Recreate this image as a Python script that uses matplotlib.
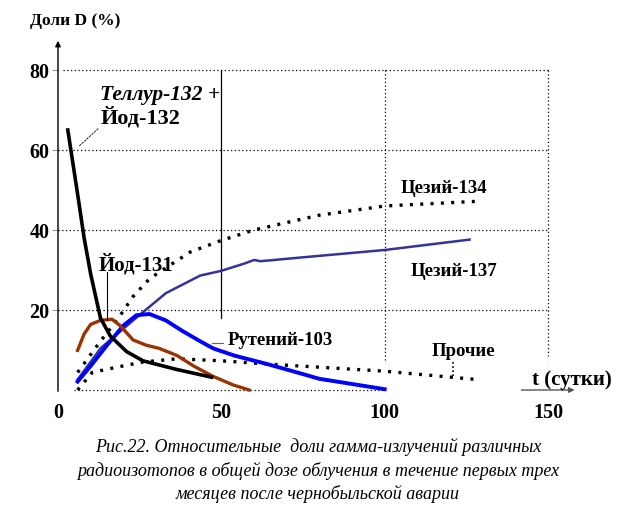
import matplotlib
matplotlib.use("Agg")
import matplotlib.pyplot as plt

# ------ data section ------
te_t = [3, 4.5, 6, 8, 10, 13, 16, 21, 26, 36, 47]
te_y = [65, 57, 49, 38, 29, 18, 13.5, 9.6, 7.3, 5.2, 3.2]

i131_t = [6, 8, 10, 13, 16.5, 19, 23, 27, 31, 36.5, 41.5, 47.5, 53.5, 58.5]
i131_y = [9.9, 14, 16.4, 17.4, 17.7, 16.1, 12.5, 11.2, 10.4, 8.6, 6, 3.4, 1.3, 0]

ru_t = [6, 10, 15, 20, 24, 28, 33, 38, 43.5, 47.5, 54, 64, 74, 80, 90, 100]
ru_y = [2.1, 6, 11.2, 16.1, 18.7, 19, 17.4, 14.8, 12.2, 10.4, 8.6, 6.5, 4.2, 2.8, 1.5, 0.2]

cs137_t = [6, 13, 23, 33, 43.5, 50, 57, 60, 62, 74, 100, 126]
cs137_y = [2.6, 10.4, 17.4, 24.2, 28.6, 29.8, 31.6, 32.5, 32.2, 33.1, 35, 37.6]

cs134_t = [6, 13, 18, 23, 28, 32, 40.5, 50, 60, 74, 80, 100, 129]
cs134_y = [4.4, 12.2, 17.4, 23.4, 27.8, 30, 34.5, 37.4, 40, 42.6, 43.7, 46, 47.2]

other_t = [6, 10.5, 18, 26, 36.5, 50, 64, 80, 100, 128.5]
other_y = [0, 4.4, 5.7, 7, 7.8, 7.3, 6.5, 5.7, 4.7, 2.6]

x_ticks = [0, 50, 100, 150]
y_ticks = [20, 40, 60, 80]
caption = ["Рис.22. Относительные  доли гамма-излучений различных",
           "радиоизотопов в общей дозе облучения в течение первых трех",
           "месяцев после чернобыльской аварии"]

SERIF = "Liberation Serif"


def main():
    fig = plt.figure(figsize=(6.36, 5.2), dpi=100)
    ax = fig.add_axes([58 / 636, 0.25, 490 / 636, 320 / 520])
    ax.set_xlim(0, 150)
    ax.set_ylim(0, 80)
    for s in ["top", "right", "bottom", "left"]:
        ax.spines[s].set_visible(False)

    # grid and frame
    grid = dict(color="black", lw=0.9, ls=(0, (1, 2)), clip_on=False)
    for yv in y_ticks:
        ax.plot([1.5 if yv == 80 else 0, 150], [yv, yv], **grid)
    ax.plot([5, 100], [0, 0], **grid)
    ax.plot([50, 50], [80, 18], color="black", lw=0.9)
    ax.plot([100, 100], [80, 7.3], **grid)
    ax.plot([150, 150], [80, 8.6], **grid)
    ax.plot([150, 150], [8.6, 5], color="#999999", lw=0.9)

    # axes arrows
    ax.annotate("", xy=(0, 88), xytext=(0, -1), xycoords="data",
                arrowprops=dict(arrowstyle="-|>", color="black", lw=1,
                                mutation_scale=8), annotation_clip=False)
    ax.annotate("", xy=(159, 0), xytext=(141, 0),
                arrowprops=dict(arrowstyle="-|>", color="#555555", lw=1,
                                mutation_scale=8), annotation_clip=False)

    # curves
    dots = (0, (0.9, 2.2))
    ax.plot(cs134_t, cs134_y, color="black", lw=2.4, ls=dots, clip_on=False)
    ax.plot(other_t, other_y, color="black", lw=2.4, ls=dots, clip_on=False)
    ax.plot(cs137_t, cs137_y, color="#333399", lw=1.8)
    ax.plot(ru_t, ru_y, color="#0000FF", lw=2.8, clip_on=False)
    ax.plot(i131_t, i131_y, color="#993300", lw=2.4, clip_on=False)
    ax.plot(te_t, te_y, color="black", lw=2.6, clip_on=False)

    # ticks
    ax.set_xticks(x_ticks)
    ax.set_xticklabels([str(v) for v in x_ticks], fontfamily=SERIF,
                       fontweight="bold", fontsize=14.5)
    ax.set_yticks(y_ticks)
    ax.set_yticklabels([str(v) for v in y_ticks], fontfamily=SERIF,
                       fontweight="bold", fontsize=14.5)
    ax.tick_params(axis="x", length=0, pad=9)
    ax.tick_params(axis="y", length=4, color="#999999", pad=2)

    bold = dict(fontfamily=SERIF, fontweight="bold", color="black")
    fig.text(30 / 636, 1 - 21 / 520, "Доли D (%)", fontsize=12.5,
             va="center", ha="left", **bold)

    # labels
    ax.text(13, 72.6, "Теллур-132 +", fontsize=15.5, style="italic", **bold)
    ax.text(13, 66.6, "Йод-132", fontsize=16, **bold)
    ax.plot([6.5, 12.5], [61, 65.5], color="black", lw=0.6, ls=(0, (3, 1)))
    ax.text(12.5, 30, "Йод-131", fontsize=15, **bold)
    ax.plot([15, 15], [29.5, 17.5], color="black", lw=0.8)
    ax.text(105, 49.2, "Цезий-134", fontsize=13.5, **bold)
    ax.text(108, 28.4, "Цезий-137", fontsize=13.5, **bold)
    ax.text(52, 11.3, "Рутений-103", fontsize=13.5, **bold)
    ax.plot([47, 50.5], [11.8, 11.8], color="#666666", lw=0.8)
    ax.text(114.5, 8.6, "Прочие", fontsize=13.5, **bold)
    ax.plot([121, 121], [7, 3.5], color="black", lw=1.2, ls=(0, (1, 1.5)))
    ax.text(145, 1.3, "t (сутки)", fontsize=15, clip_on=False, **bold)

    # caption
    for i, line in enumerate(caption):
        fig.text(0.5, 1 - (447 + 23.5 * i) / 520, line, fontfamily=SERIF,
                 style="italic", fontsize=13, ha="center", va="center")

    fig.savefig("out.png", dpi=100)


if __name__ == "__main__":
    main()
